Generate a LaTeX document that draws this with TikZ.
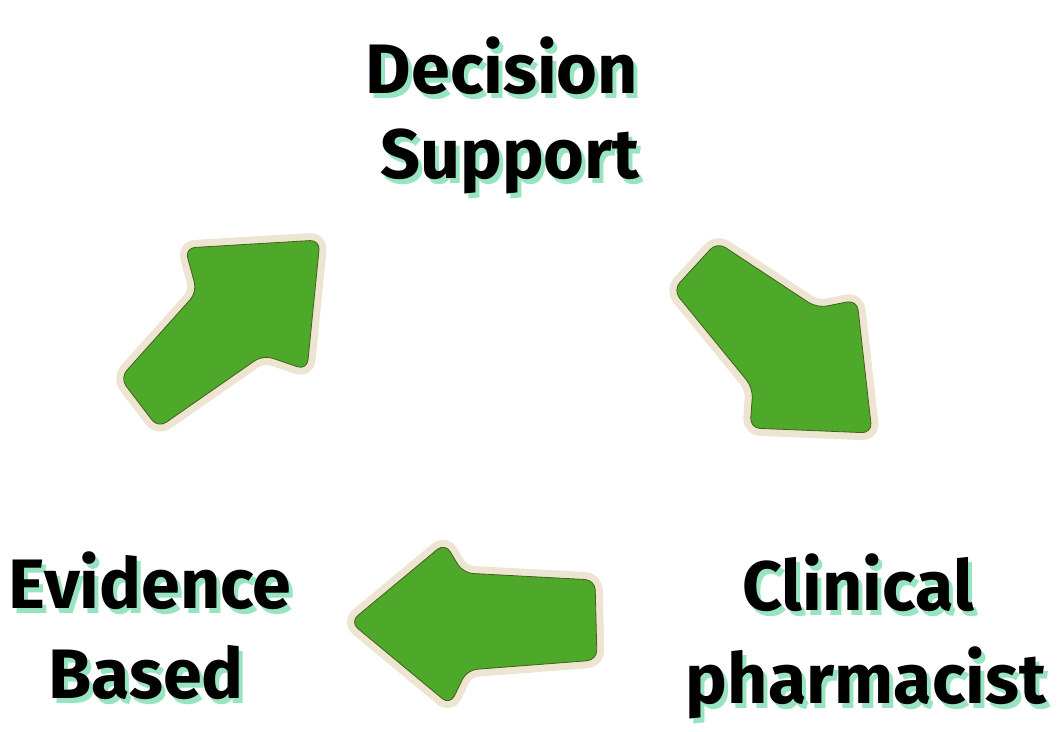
\documentclass[tikz,border=0pt]{standalone}
\usepackage{fontspec}
\setmainfont{Fira Sans}[BoldFont={Fira Sans Bold}]
\definecolor{argreen}{RGB}{78,168,42}
\definecolor{aredge}{RGB}{70,95,30}
\definecolor{arcream}{RGB}{238,228,210}
\definecolor{mint}{RGB}{150,228,192}
\newcommand\shadowed[1]{\makebox[0pt][l]{\hspace{4pt}\raisebox{-5pt}{\textcolor{mint}{#1}}}#1}
\tikzset{
  lbl/.style={font=\fontsize{70}{80}\selectfont\bfseries, anchor=base, inner sep=0pt, text=black},
  rim/.style={draw=arcream, line width=15pt, line join=round, rounded corners=10pt},
  body/.style={fill=argreen, draw=aredge, line width=0.8pt, rounded corners=10pt},
}
\begin{document}
\begin{tikzpicture}[x=1pt,y=-1pt]
\useasboundingbox (0,0) rectangle (1057,731);
\fill[white] (0,0) rectangle (1057,731);
% arrow shapes
\def\arrowA{(320,240) -- (185,248) -- (197,292) -- (120,378) -- (158,428) -- (263,355) -- (307,370) -- cycle}
\def\arrowB{(717,242) -- (817,308) -- (857,300) -- (872,433) -- (750,428) -- (753,388) -- (673,290) -- cycle}
\def\arrowC{(350,622) -- (445,543) -- (463,573) -- (595,580) -- (597,660) -- (467,670) -- (450,705) -- cycle}
\draw[rim] \arrowA; \draw[body] \arrowA;
\draw[rim] \arrowB; \draw[body] \arrowB;
\draw[rim] \arrowC; \draw[body] \arrowC;
% labels
\node[lbl] (dec) at (502,93) {\shadowed{Decision}};
\node[lbl] (sup) at (510,178) {\shadowed{Support}};
\node[lbl] (evi) at (150,608) {\shadowed{Evidence}};
\node[lbl] (bas) at (146,698) {\shadowed{Based}};
\node[lbl] (cli) at (858,610) {\shadowed{Clinical}};
\node[lbl] (pha) at (866,703) {\shadowed{pharmacist}};
\end{tikzpicture}
\end{document}
